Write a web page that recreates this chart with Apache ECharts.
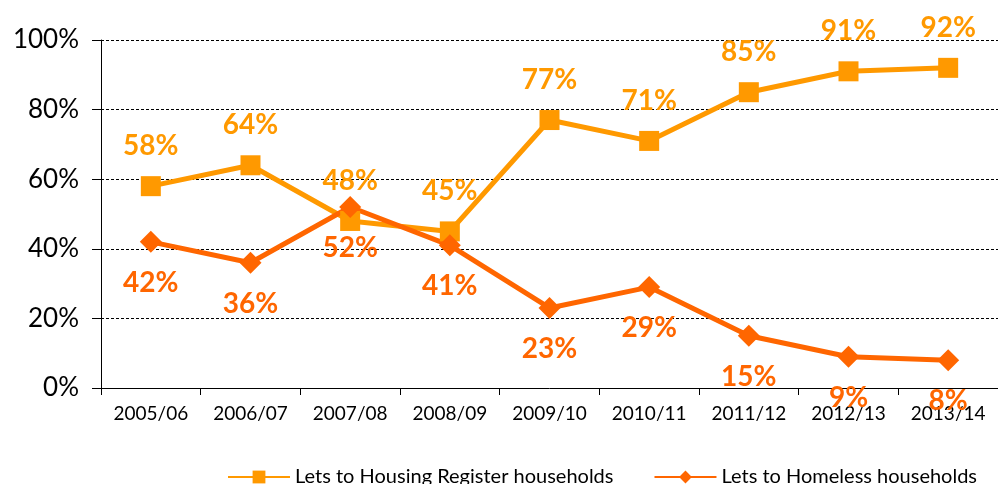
<!DOCTYPE html>
<html>
<head>
<meta charset="utf-8">
<script src="https://cdn.jsdelivr.net/npm/echarts@6/dist/echarts.min.js"></script>
<style>
  html, body { margin: 0; padding: 0; background: #fff; }
  #chart { width: 998px; height: 484px; }
</style>
</head>
<body>
<div id="chart"></div>
<script>
var years = ['2005/06', '2006/07', '2007/08', '2008/09', '2009/10', '2010/11', '2011/12', '2012/13', '2013/14']
var housingRegister = [58, 64, 48, 45, 77, 71, 85, 91, 92]
var homeless = [42, 36, 52, 41, 23, 29, 15, 9, 8]

var lightOrange = '#FF9900'
var darkOrange = '#FF6600'
var font = 'Lato'

var chart = echarts.init(document.getElementById('chart'))
chart.setOption({
  animation: false,
  textStyle: { fontFamily: font },
  grid: {
    left: 101,
    top: 40,
    width: 905,
    height: 348
  },
  legend: {
    top: 462,
    left: 222,
    itemGap: 40,
    itemWidth: 62,
    itemHeight: 16,
    textStyle: { fontSize: 20, color: '#000', fontFamily: font },
    data: ['Lets to Housing Register households', 'Lets to Homeless households']
  },
  xAxis: {
    type: 'category',
    data: years,
    boundaryGap: true,
    axisLine: { lineStyle: { color: '#000', width: 1 } },
    axisTick: { show: true, length: 7, lineStyle: { color: '#000' } },
    axisLabel: { color: '#000', fontSize: 19, margin: 16 }
  },
  yAxis: {
    type: 'value',
    min: 0,
    max: 100,
    interval: 20,
    axisLine: { show: true, lineStyle: { color: '#000', width: 1 } },
    axisTick: { show: true, length: 9, lineStyle: { color: '#000' } },
    axisLabel: { color: '#000', fontSize: 26, margin: 22, formatter: '{value}%' },
    splitLine: { lineStyle: { color: '#000', type: [3, 2], width: 1 } }
  },
  series: [
    {
      name: 'Lets to Housing Register households',
      type: 'line',
      data: housingRegister,
      symbol: 'rect',
      symbolSize: 20,
      itemStyle: { color: lightOrange },
      lineStyle: { color: lightOrange, width: 5 },
      label: {
        show: true,
        position: 'top',
        distance: 16,
        color: lightOrange,
        fontSize: 28,
        fontWeight: 'bold',
        formatter: '{c}%'
      }
    },
    {
      name: 'Lets to Homeless households',
      type: 'line',
      data: homeless,
      symbol: 'diamond',
      symbolSize: [22, 22],
      itemStyle: { color: darkOrange },
      lineStyle: { color: darkOrange, width: 5 },
      label: {
        show: true,
        position: 'bottom',
        distance: 16,
        color: darkOrange,
        fontSize: 28,
        fontWeight: 'bold',
        formatter: '{c}%'
      }
    }
  ]
})
</script>
</body>
</html>
